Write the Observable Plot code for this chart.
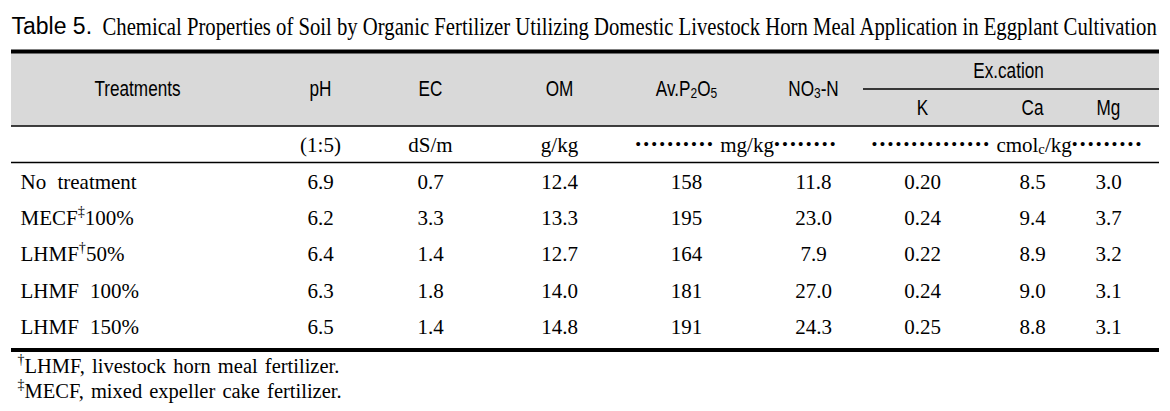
<!DOCTYPE html>
<html>
<head>
<meta charset="utf-8">
<script src="https://cdn.jsdelivr.net/npm/d3@7"></script>
<script src="https://cdn.jsdelivr.net/npm/@observablehq/plot@0.6"></script>
<style>
  html, body { margin: 0; padding: 0; background: #fff; }
  #chart svg { display: block; }
</style>
</head>
<body>
<div id="chart"></div>
<script>
// ---------------- data ----------------
const titleLead = "Table 5.";
const titleText = "Chemical Properties of Soil by Organic Fertilizer Utilizing Domestic Livestock Horn Meal Application in Eggplant Cultivation";
const treatmentHeader = "Treatments";
const treatments = ["No treatment", "MECF‡100%", "LHMF†50%", "LHMF 100%", "LHMF 150%"];
const columns = ["pH", "EC", "OM", "P2O5", "NO3N", "K", "Ca", "Mg"];
const columnLabels = ["pH", "EC", "OM", "Av.P₂O₅", "NO₃-N", "K", "Ca", "Mg"];
const groupLabel = "Ex.cation";
const groupColumns = ["K", "Ca", "Mg"];
const unitLabels = ["(1:5)", "dS/m", "g/kg"];
const unitGroups = ["•••••••••• mg/kg••••••••", "••••••••••••••• cmolc/kg•••••••••"];
const pH   = [6.9, 6.2, 6.4, 6.3, 6.5];
const EC   = [0.7, 3.3, 1.4, 1.8, 1.4];
const OM   = [12.4, 13.3, 12.7, 14.0, 14.8];
const P2O5 = [158, 195, 164, 181, 191];
const NO3N = [11.8, 23.0, 7.9, 27.0, 24.3];
const K    = [0.20, 0.24, 0.22, 0.24, 0.25];
const Ca   = [8.5, 9.4, 8.9, 9.0, 8.8];
const Mg   = [3.0, 3.7, 3.2, 3.1, 3.1];
const decimals = {pH: 1, EC: 1, OM: 1, P2O5: 0, NO3N: 1, K: 2, Ca: 1, Mg: 1};
const footnotes = ["†LHMF, livestock horn meal fertilizer.", "‡MECF, mixed expeller cake fertilizer."];

// ---------------- layout (positions in px) ----------------
const L = {
  left: 11, right: 1159,
  titleY: 26, titleLeadX: 11, titleX: 102, titleLen: 1055,
  topRule: 51, headBottom: 125.5, unitBottom: 162, bottomRule: 349.5,
  subRuleY: 88.5, subRuleX1: 863,
  headY: 88, groupY: 70, subY: 107, unitY: 145,
  rowY: [182, 218, 254, 291, 327],
  footY: [366, 391],
  treatX: 20, treatHeadX: 137, footX: 17,
  colX: {pH: 320, EC: 430, OM: 559, P2O5: 686, NO3N: 813, K: 922, Ca: 1032, Mg: 1108},
  groupX: 1008,
  unitGroupX: [736, 1007]
};

const values = {pH, EC, OM, P2O5, NO3N, K, Ca, Mg};

// tables built from the arrays
const headerCells = columns.map((c, i) => ({
  label: columnLabels[i], x: L.colX[c], y: groupColumns.includes(c) ? L.subY : L.headY
}));
headerCells.push({label: treatmentHeader, x: L.treatHeadX, y: L.headY});
headerCells.push({label: groupLabel, x: L.groupX, y: L.groupY});

const unitCells = unitLabels.map((u, i) => ({label: u, x: L.colX[columns[i]], y: L.unitY}))
  .concat(unitGroups.map((u, i) => ({label: u, x: L.unitGroupX[i], y: L.unitY})));

const rowCells = treatments.map((t, i) => ({label: t, x: L.treatX, y: L.rowY[i]}));

const dataCells = [];
treatments.forEach((t, i) => {
  columns.forEach(c => {
    dataCells.push({label: values[c][i].toFixed(decimals[c]), x: L.colX[c], y: L.rowY[i]});
  });
});

const footCells = footnotes.map((f, i) => ({label: f, x: L.footX, y: L.footY[i]}));

const band = [{x1: L.left, x2: L.right, y1: L.topRule, y2: L.headBottom}];
const thickRules = [{y: L.topRule, x1: L.left, x2: L.right}, {y: L.bottomRule, x1: L.left, x2: L.right}];
const thinRules = [
  {y: L.headBottom, x1: L.left, x2: L.right},
  {y: L.unitBottom, x1: L.left, x2: L.right},
  {y: L.subRuleY, x1: L.subRuleX1, x2: L.right}
];

const serif = "Liberation Serif";
const sans = "Liberation Sans";

const plot = Plot.plot({
  width: 1170, height: 411, margin: 0,
  x: {type: "linear", domain: [0, 1170], range: [0, 1170], axis: null},
  y: {type: "linear", domain: [0, 411], range: [0, 411], axis: null},
  style: {background: "#fff", overflow: "visible"},
  marks: [
    Plot.rect(band, {x1: "x1", x2: "x2", y1: "y1", y2: "y2", fill: "#d9d9d9"}),
    Plot.ruleY(thickRules, {y: "y", x1: "x1", x2: "x2", stroke: "#000", strokeWidth: 4}),
    Plot.ruleY(thinRules, {y: "y", x1: "x1", x2: "x2", stroke: "#000", strokeWidth: 1.6}),
    // text marks, in this order: 0 title lead, 1 title, 2 header, 3 units, 4 row labels, 5 cells, 6 footnotes
    Plot.text([titleLead], {x: () => L.titleLeadX, y: () => L.titleY, text: d => d, textAnchor: "start",
      fontFamily: sans, fontSize: 23, fill: "#000"}),
    Plot.text([titleText], {x: () => L.titleX, y: () => L.titleY, text: d => d, textAnchor: "start",
      fontFamily: serif, fontSize: 25, fill: "#000"}),
    Plot.text(headerCells, {x: "x", y: "y", text: "label", fontFamily: sans, fontSize: 22, fill: "#000"}),
    Plot.text(unitCells, {x: "x", y: "y", text: "label", fontFamily: serif, fontSize: 21, fill: "#000"}),
    Plot.text(rowCells, {x: "x", y: "y", text: "label", textAnchor: "start", fontFamily: serif, fontSize: 21, fill: "#000"}),
    Plot.text(dataCells, {x: "x", y: "y", text: "label", fontFamily: serif, fontSize: 21, fill: "#000"}),
    Plot.text(footCells, {x: "x", y: "y", text: "label", textAnchor: "start", fontFamily: serif, fontSize: 20.5, fill: "#000"})
  ]
});

document.getElementById("chart").append(plot);

// ---------------- post-processing: rich text & condensed type ----------------
const textGroups = Array.from(plot.querySelectorAll('g[aria-label="text"]'));
const [gLead, gTitle, gHeader, gUnits, gRows, gCells, gFoot] = textGroups;

function appendTransform(t, extra) {
  let tr = t.getAttribute("transform");
  if (!tr) {
    const x = t.getAttribute("x") || 0, y = t.getAttribute("y") || 0;
    tr = `translate(${x},${y})`;
    t.removeAttribute("x"); t.removeAttribute("y");
  }
  t.setAttribute("transform", tr + " " + extra);
}

if (gHeader) gHeader.querySelectorAll("text").forEach(t => appendTransform(t, "scale(0.78,1)"));
if (gTitle) gTitle.querySelectorAll("text").forEach(t => {
  const w = t.getComputedTextLength();
  if (w > 0) appendTransform(t, `scale(${(L.titleLen / w).toFixed(4)},1)`);
});
if (gRows) gRows.setAttribute("word-spacing", "6");
if (gFoot) gFoot.setAttribute("word-spacing", "2");

const subMap = {"₂": "2", "₃": "3", "₅": "5"};
function enrich(t) {
  const s = t.textContent;
  const re = /([†‡])|([₂₃₅])|(•+)|((?<=cmol)c(?=\/))/g;
  if (!re.test(s)) return;
  re.lastIndex = 0;
  const fs = parseFloat(getComputedStyle(t).fontSize) || 21;
  const parts = [];
  let last = 0, m;
  while ((m = re.exec(s))) {
    if (m.index > last) parts.push({text: s.slice(last, m.index), kind: "n"});
    if (m[1]) parts.push({text: m[1], kind: "sup"});
    else if (m[2]) parts.push({text: subMap[m[2]], kind: "sub"});
    else if (m[3]) parts.push({text: m[3], kind: "dot"});
    else parts.push({text: "c", kind: "sub"});
    last = re.lastIndex;
  }
  if (last < s.length) parts.push({text: s.slice(last), kind: "n"});
  while (t.firstChild) t.removeChild(t.firstChild);
  let cur = 0;
  for (const p of parts) {
    const ts = document.createElementNS("http://www.w3.org/2000/svg", "tspan");
    ts.textContent = p.text;
    let off = 0;
    if (p.kind === "sup") { off = -0.42 * fs; ts.setAttribute("font-size", 0.68 * fs); }
    else if (p.kind === "sub") { off = 0.1 * fs; ts.setAttribute("font-size", 0.7 * fs); }
    else if (p.kind === "dot") { off = -0.12 * fs; ts.setAttribute("font-size", 0.8 * fs); ts.setAttribute("letter-spacing", "2.1"); }
    if (off !== cur) ts.setAttribute("dy", off - cur);
    cur = off;
    t.appendChild(ts);
  }
}
plot.querySelectorAll("text").forEach(enrich);
</script>
</body>
</html>
